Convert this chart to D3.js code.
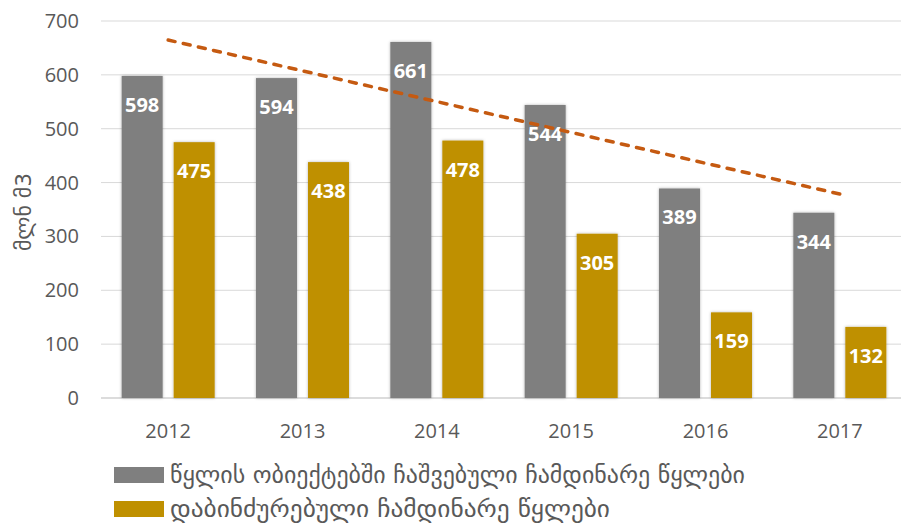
<!DOCTYPE html>
<html><head><meta charset="utf-8">
<script src="https://cdn.jsdelivr.net/npm/d3@7"></script>
<style>body{margin:0;background:#fff}svg{display:block}</style>
</head><body>
<svg id="c" width="901" height="523"></svg>
<script>
const years = ["2012","2013","2014","2015","2016","2017"];
const dischargedWater = [598,594,661,544,389,344];
const pollutedWater = [475,438,478,305,159,132];
const yTicks = [0,100,200,300,400,500,600,700];
const seriesNames = ["წყლის ობიექტებში ჩაშვებული ჩამდინარე წყლები","დაბინძურებული ჩამდინარე წყლები"];
const yTitle = "მლნ მ3";
const colors = ["#7F7F7F","#BF9000"];
const trendColor = "#C55A11";

const svg = d3.select("#c");
const font = "'Open Sans','DejaVu Sans',sans-serif";
const geoFont = "'DejaVu Sans',sans-serif";
const defs = svg.append("defs");
const f = defs.append("filter").attr("id","sh").attr("x","-20%").attr("y","-5%").attr("width","140%").attr("height","110%");
f.append("feDropShadow").attr("dx",0).attr("dy",0).attr("stdDeviation",1.5).attr("flood-color","#000").attr("flood-opacity",0.3);

const x0 = d3.scaleBand().domain(years).range([101,907]).paddingInner(0).paddingOuter(0);
const y = d3.scaleLinear().domain([0,700]).range([398,21]);

// gridlines
svg.append("g").selectAll("line").data(yTicks).join("line")
  .attr("x1",101).attr("x2",901).attr("y1",d=>y(d)).attr("y2",d=>y(d))
  .attr("stroke",d=>d===0?"#D0D0D0":"#D9D9D9").attr("stroke-width",d=>d===0?1.5:1);

// y tick labels
svg.append("g").selectAll("text").data(yTicks).join("text")
  .attr("x",79).attr("y",d=>y(d)).attr("dy","0.35em").attr("text-anchor","end")
  .attr("font-family",font).attr("font-size",20).attr("fill","#595959").text(d=>d);

// y title
svg.append("text").attr("transform",`translate(23,212) rotate(-90)`).attr("text-anchor","middle")
  .attr("dy","0.35em")
  .attr("font-family",geoFont).attr("font-size",22).attr("fill","#595959")
  .attr("textLength",78).attr("lengthAdjust","spacingAndGlyphs").text(yTitle);

// x labels
svg.append("g").selectAll("text").data(years).join("text")
  .attr("x",d=>x0(d)+x0.bandwidth()/2).attr("y",431).attr("dy","0.35em").attr("text-anchor","middle")
  .attr("font-family",font).attr("font-size",20).attr("fill","#595959").text(d=>d);

const barW = 41, gap = 11;
const series = [dischargedWater, pollutedWater];
series.forEach((vals,si)=>{
  const g = svg.append("g");
  const bx = (d,i)=> x0(years[i]) + x0.bandwidth()/2 - (barW*2+gap)/2 + si*(barW+gap);
  g.selectAll("rect").data(vals).join("rect")
    .attr("x",(d,i)=>bx(d,i)).attr("width",barW)
    .attr("y",d=>y(d)).attr("height",d=>y(0)-y(d))
    .attr("fill",colors[si]).attr("filter","url(#sh)");
  g.selectAll("text").data(vals).join("text")
    .attr("x",(d,i)=>bx(d,i)+barW/2).attr("y",d=>y(d)+29).attr("dy","0.35em")
    .attr("text-anchor","middle").attr("font-family",font).attr("font-weight","bold")
    .attr("font-size",20).attr("fill","#fff").text(d=>d);
});

// linear trendline of first series
const xs = years.map((d,i)=>i+1);
const mx = d3.mean(xs), my = d3.mean(dischargedWater);
const slope = d3.sum(xs,(xv,i)=>(xv-mx)*(dischargedWater[i]-my))/d3.sum(xs,xv=>(xv-mx)**2);
const trend = years.map((d,i)=>({x:d, v: my + slope*(i+1-mx)}));
const line = d3.line().x(d=>x0(d.x)+x0.bandwidth()/2).y(d=>y(d.v));
svg.append("path").datum([trend[0],trend[trend.length-1]]).attr("d",line)
  .attr("fill","none").attr("stroke",trendColor).attr("stroke-width",3.5)
  .attr("stroke-dasharray","7,8.5").attr("stroke-linecap","round");

// legend
const lg = svg.append("g");
const legendLens = [575, 440];
seriesNames.forEach((n,i)=>{
  const yy = 475 + i*34;
  lg.append("rect").attr("x",114).attr("y",yy-8).attr("width",50).attr("height",16).attr("fill",colors[i]);
  lg.append("text").attr("x",170).attr("y",yy).attr("dy","0.35em")
    .attr("font-family",geoFont).attr("font-size",23).attr("fill","#595959")
    .attr("textLength",legendLens[i]).attr("lengthAdjust","spacingAndGlyphs").text(n);
});
</script>
</body></html>
